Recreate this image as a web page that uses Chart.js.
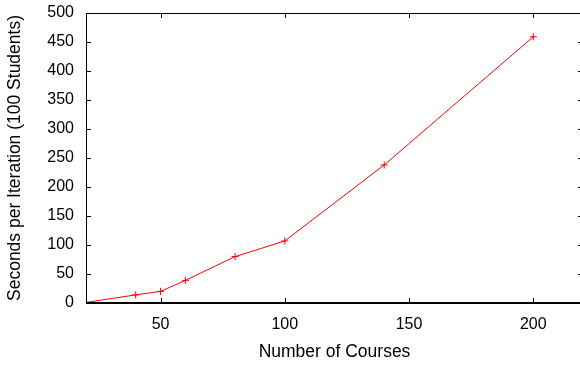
<!DOCTYPE html>
<html>
<head>
<meta charset="utf-8">
<script src="https://cdn.jsdelivr.net/npm/chart.js@4"></script>
<style>
html,body{margin:0;padding:0;background:#fff;overflow:hidden;}
#wrap{width:580px;height:366px;overflow:hidden;}
</style>
</head>
<body>
<div id="wrap"><canvas id="c" width="600" height="366"></canvas></div>
<script>
const courses = [20, 40, 50, 60, 80, 100, 140, 200];
const secondsPerIteration = [1, 14, 20, 39, 80, 107, 238, 459];
const xTickValues = [50, 100, 150, 200];
const yTickValues = [0, 50, 100, 150, 200, 250, 300, 350, 400, 450, 500];
const xTitle = 'Number of Courses';
const yTitle = 'Seconds per Iteration (100 Students)';

const FONT = 'Liberation Sans, Arial, Helvetica, sans-serif';

const frame = {
  id: 'frame',
  afterDatasetsDraw(chart) {
    const {ctx, chartArea: a, scales} = chart;
    ctx.save();
    ctx.strokeStyle = '#000';
    ctx.lineWidth = 1;
    const tl = 5;
    ctx.beginPath();
    xTickValues.forEach(v => {
      const x = Math.round(scales.x.getPixelForValue(v)) + 0.5;
      ctx.moveTo(x, a.bottom); ctx.lineTo(x, a.bottom - tl);
      ctx.moveTo(x, a.top); ctx.lineTo(x, a.top + tl);
    });
    yTickValues.forEach(v => {
      const y = Math.round(scales.y.getPixelForValue(v)) + 0.5;
      ctx.moveTo(a.left, y); ctx.lineTo(a.left + tl, y);
      ctx.moveTo(a.right, y); ctx.lineTo(a.right - tl, y);
    });
    ctx.stroke();
    ctx.beginPath();
    ctx.moveTo(a.left + 0.5, a.bottom);
    ctx.lineTo(a.left + 0.5, a.top + 0.5);
    ctx.lineTo(a.right - 0.5, a.top + 0.5);
    ctx.lineTo(a.right - 0.5, a.bottom);
    ctx.stroke();
    ctx.lineWidth = 2;
    ctx.beginPath();
    ctx.moveTo(a.left, a.bottom);
    ctx.lineTo(a.right, a.bottom);
    ctx.stroke();
    ctx.restore();
  }
};

new Chart(document.getElementById('c'), {
  type: 'line',
  data: {
    datasets: [{
      data: courses.map((c, i) => ({x: c, y: secondsPerIteration[i]})),
      borderColor: 'rgb(255,0,0)',
      backgroundColor: 'rgb(255,0,0)',
      borderWidth: 1,
      pointStyle: 'cross',
      pointRadius: 3.5,
      pointBorderWidth: 1,
      tension: 0,
      fill: false
    }]
  },
  options: {
    responsive: false,
    animation: false,
    devicePixelRatio: 1,
    layout: {padding: {left: 0, top: 13, right: 17, bottom: 0}},
    plugins: {legend: {display: false}, tooltip: {enabled: false}},
    scales: {
      x: {
        type: 'linear',
        min: 20, max: 220,
        afterBuildTicks: s => { s.ticks = xTickValues.map(v => ({value: v})); },
        afterFit: s => { s.height = 63; s.paddingLeft = 0; s.paddingRight = 0; },
        grid: {display: false, drawTicks: false},
        border: {display: false},
        ticks: {padding: 12, color: '#000', font: {family: FONT, size: 16}, maxRotation: 0, autoSkip: false},
        title: {display: true, text: xTitle, color: '#000', font: {family: FONT, size: 17.5}, padding: {top: 0, bottom: 3}}
      },
      y: {
        type: 'linear',
        min: 0, max: 500,
        afterBuildTicks: s => { s.ticks = yTickValues.map(v => ({value: v})); },
        afterFit: s => { s.width = 86; s.paddingTop = 0; s.paddingBottom = 0; },
        grid: {display: false, drawTicks: false},
        border: {display: false},
        ticks: {padding: 12, color: '#000', font: {family: FONT, size: 16}, autoSkip: false},
        title: {display: true, text: yTitle, color: '#000', font: {family: FONT, size: 17.5}, padding: {top: 5, bottom: 0}}
      }
    }
  },
  plugins: [frame]
});
</script>
</body>
</html>
